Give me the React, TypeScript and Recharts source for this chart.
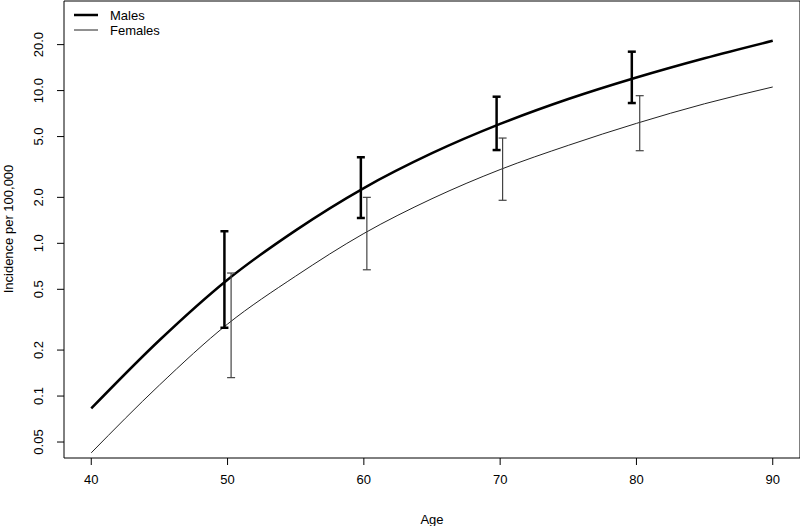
import {
  ComposedChart,
  Line,
  Scatter,
  ErrorBar,
  XAxis,
  YAxis,
  ReferenceArea,
  Customized,
} from 'recharts'

// fitted curves, read every 5 years
const ages = [40, 45, 50, 55, 60, 65, 70, 75, 80, 85, 90]
const malesFit = [0.083, 0.232, 0.578, 1.216, 2.3, 3.89, 6.05, 8.81, 12.19, 16.3, 21.2]
const femalesFit = [0.0425, 0.118, 0.296, 0.61, 1.16, 1.96, 3.04, 4.38, 6.1, 8.2, 10.56]

// observed intervals (bars are nudged a bit left / right of each decade)
const maleBarAges = [49.77, 59.78, 69.74, 79.66]
const maleLow = [0.28, 1.465, 4.08, 8.29]
const maleHigh = [1.2, 3.66, 9.12, 17.98]
const femaleBarAges = [50.26, 60.22, 70.18, 80.24]
const femaleLow = [0.132, 0.671, 1.913, 4.04]
const femaleHigh = [0.639, 2.0, 4.89, 9.26]

const xTicks = [40, 50, 60, 70, 80, 90]
const yTicks = [0.05, 0.1, 0.2, 0.5, 1, 2, 5, 10, 20]
const yTickLabels = ['0.05', '0.1', '0.2', '0.5', '1.0', '2.0', '5.0', '10.0', '20.0']
const seriesNames = ['Males', 'Females']

const X_DOMAIN: [number, number] = [38, 92]
const Y_DOMAIN: [number, number] = [0.0393, 38.6]
const FONT = '"Liberation Sans", Arial, sans-serif'

const curve = (vals: number[]) => ages.map((age, i) => ({ age, v: vals[i] }))
const bars = (xs: number[], lo: number[], hi: number[]) =>
  xs.map((age, i) => ({ age, lo: lo[i], err: [0, hi[i] - lo[i]] }))

const maleCurve = curve(malesFit)
const femaleCurve = curve(femalesFit)
const maleBars = bars(maleBarAges, maleLow, maleHigh)
const femaleBars = bars(femaleBarAges, femaleLow, femaleHigh)

function XTick({ x, payload }: any) {
  return (
    <text x={x} y={484} textAnchor="middle" fontSize={13} fontFamily={FONT} fill="#000">
      {payload.value}
    </text>
  )
}

function YTick({ y, payload }: any) {
  const idx = yTicks.indexOf(payload.value)
  return (
    <text
      x={43}
      y={y}
      transform={`rotate(-90 43 ${y})`}
      textAnchor="middle"
      fontSize={13}
      fontFamily={FONT}
      fill="#000"
    >
      {idx >= 0 ? yTickLabels[idx] : payload.value}
    </text>
  )
}

// legend + axis titles, placed like the R plot
function Decorations() {
  return (
    <g fontFamily={FONT} fontSize={13} fill="#000">
      <line x1={74} x2={98} y1={15} y2={15} stroke="#000" strokeWidth={2.5} />
      <text x={110} y={20}>{seriesNames[0]}</text>
      <line x1={74} x2={98} y1={30} y2={30} stroke="#222" strokeWidth={1} />
      <text x={110} y={35}>{seriesNames[1]}</text>
      <text x={432} y={524} textAnchor="middle">Age</text>
      <text x={13} y={229} transform="rotate(-90 13 229)" textAnchor="middle">
        Incidence per 100,000
      </text>
    </g>
  )
}

const noDot = () => <g />

export default function App() {
  return (
    <div style={{ position: 'absolute', left: 0, top: 0, background: '#fff' }}>
      <ComposedChart width={800} height={526} margin={{ top: 1, right: 0, bottom: 0, left: 0 }}>
        <XAxis
          dataKey="age"
          type="number"
          domain={X_DOMAIN}
          ticks={xTicks}
          allowDataOverflow
          axisLine={false}
          tickLine={{ stroke: '#000' }}
          tickSize={7}
          height={68}
          tick={<XTick />}
        />
        <YAxis
          type="number"
          scale="log"
          domain={Y_DOMAIN}
          ticks={yTicks}
          allowDataOverflow
          axisLine={false}
          tickLine={{ stroke: '#000' }}
          tickSize={7}
          width={64}
          tick={<YTick />}
        />
        <ReferenceArea
          x1={X_DOMAIN[0]}
          x2={X_DOMAIN[1]}
          y1={Y_DOMAIN[0]}
          y2={Y_DOMAIN[1]}
          fill="none"
          stroke="#000"
          strokeWidth={1}
        />
        <Line
          data={maleCurve}
          dataKey="v"
          type="monotone"
          stroke="#000"
          strokeWidth={2.5}
          dot={false}
          isAnimationActive={false}
        />
        <Line
          data={femaleCurve}
          dataKey="v"
          type="monotone"
          stroke="#222"
          strokeWidth={1}
          dot={false}
          isAnimationActive={false}
        />
        <Scatter data={maleBars} dataKey="lo" shape={noDot} isAnimationActive={false}>
          <ErrorBar dataKey="err" direction="y" width={4} stroke="#000" strokeWidth={2.5} />
        </Scatter>
        <Scatter data={femaleBars} dataKey="lo" shape={noDot} isAnimationActive={false}>
          <ErrorBar dataKey="err" direction="y" width={4} stroke="#444" strokeWidth={1.2} />
        </Scatter>
        <Customized component={Decorations} />
      </ComposedChart>
    </div>
  )
}
